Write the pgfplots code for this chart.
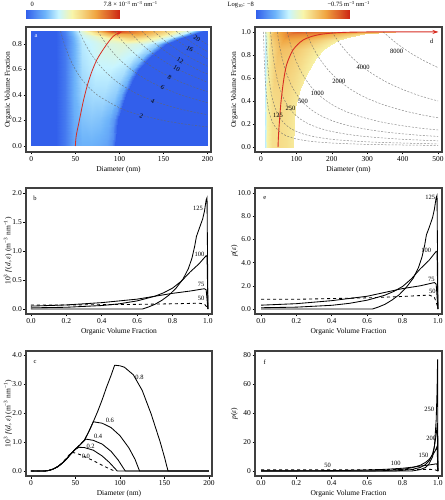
\documentclass[border=0pt]{standalone}
\usepackage{fontspec}
\setmainfont{Liberation Serif}
\usepackage{pgfplots}
\pgfplotsset{compat=1.18}
\usetikzlibrary{arrows.meta}
\definecolor{redc}{RGB}{215,45,35}
\pgfplotsset{
 colormap={heat}{rgb255(0cm)=(50,95,235); rgb255(2cm)=(110,180,250); rgb255(3.5cm)=(200,245,255); rgb255(5cm)=(248,245,170); rgb255(7.5cm)=(240,165,65); rgb255(10cm)=(205,40,20)},
 panel/.style={scale only axis, anchor=south west, axis line style={draw=black!75, line width=1.1pt},
   tick align=outside, xtick pos=left, ytick pos=left, major tick length=2.5pt,
   tick style={black, line width=0.6pt},
   ticklabel style={font=\fontsize{7.5}{8}\selectfont},
   x tick label style={inner sep=1.5pt},
   y tick label style={inner sep=1.5pt},
   label style={font=\fontsize{7.5}{9}\selectfont},
   /pgf/number format/assume math mode=true, scaled ticks=false},
 lefty/.style={ylabel style={at={(axis description cs:-0.097,0.5)}, anchor=center}},
 righty/.style={ylabel style={at={(axis description cs:-0.11,0.5)}, anchor=center}},
 dx/.style={x tick label style={/pgf/number format/fixed, /pgf/number format/fixed zerofill, /pgf/number format/precision=1}},
 dy/.style={y tick label style={/pgf/number format/fixed, /pgf/number format/fixed zerofill, /pgf/number format/precision=1}},
 crv/.style={black, line width=0.85pt, no marks},
 cont/.style={black!60, opacity=0.75, dash pattern=on 2pt off 1.5pt, line width=0.5pt, no marks, smooth},
 cbax/.style={scale only axis, anchor=south west, width=93pt, height=9pt, hide axis, ymin=0, ymax=1, colormap name=heat},
}
\newcommand{\lab}{\fontsize{6.5}{7}\selectfont}
\begin{document}
\begin{tikzpicture}[x=1pt,y=1pt]
\path[use as bounding box] (0pt,0pt) rectangle (444pt,500pt);
\node[anchor=base west, font=\lab] at (27pt,493pt) {0};
\node[anchor=base west, font=\lab] at (100pt,493pt) {7.8 × 10\textsuperscript{−3} m\textsuperscript{−3} nm\textsuperscript{−1}};
\node[anchor=base west, font=\lab] at (224pt,493pt) {Log\textsubscript{10}: −8};
\node[anchor=base west, font=\lab] at (324pt,493pt) {−0.75 m\textsuperscript{−3} nm\textsuperscript{−1}};

% colour bars
\begin{axis}[cbax, at={(26pt,481pt)}, xmin=0, xmax=7.8, point meta min=0, point meta max=7.8]
\addplot[surf, shader=interp, mesh/cols=11, point meta=x] coordinates {
(0,0)(0.78,0)(1.56,0)(2.34,0)(3.12,0)(3.9,0)(4.68,0)(5.46,0)(6.24,0)(7.02,0)(7.8,0)
(0,1)(0.78,1)(1.56,1)(2.34,1)(3.12,1)(3.9,1)(4.68,1)(5.46,1)(6.24,1)(7.02,1)(7.8,1)};
\end{axis}
\begin{axis}[cbax, at={(256pt,481pt)}, xmin=-8, xmax=-0.75, point meta min=-8, point meta max=-0.75]
\addplot[surf, shader=interp, mesh/cols=11, point meta=x] coordinates {
(-8,0)(-7.275,0)(-6.55,0)(-5.825,0)(-5.1,0)(-4.375,0)(-3.65,0)(-2.925,0)(-2.2,0)(-1.475,0)(-0.75,0)
(-8,1)(-7.275,1)(-6.55,1)(-5.825,1)(-5.1,1)(-4.375,1)(-3.65,1)(-2.925,1)(-2.2,1)(-1.475,1)(-0.75,1)};
\end{axis}

% ---------------- panel a
\begin{axis}[panel, lefty, at={(26pt,348pt)}, width=185pt, height=125pt,
  xmin=-6, xmax=204, ymin=-0.047, ymax=0.933,
  xtick={0,50,100,150,200}, ytick={0,0.2,0.4,0.6,0.8}, dy,
  xlabel={Diameter (nm)}, ylabel={Organic Volume Fraction},
  colormap name=heat, point meta min=0, point meta max=7.8]
\addplot[surf, shader=interp, mesh/cols=11, point meta=explicit] table[x=d, y=e, meta=v] {
d e v
0 0 0
28 0 0
38 0 0.5
48 0 1.3
58 0 1.5
67.25 0 1.5
76.5 0 1.4
85.75 0 1.2
91.3 0 0.8
95 0 0
200 0 0
0 0.2 0
28 0.2 0
38 0.2 0.5
48 0.2 1.4
58 0.2 1.8
68 0.2 1.9
78 0.2 1.8
88 0.2 1.5
94 0.2 1.0
98 0.2 0
200 0.2 0
0 0.4 0
28 0.4 0
38 0.4 0.5
48 0.4 1.5
58 0.4 2.1
70.25 0.4 2.3
82.5 0.4 2.3
94.75 0.4 2.0
102.1 0.4 1.4
107 0.4 0
200 0.4 0
0 0.5 0
28 0.5 0
38 0.5 0.5
48 0.5 1.5
58 0.5 2.2
72 0.5 2.5
86 0.5 2.5
100 0.5 2.2
108.4 0.5 1.5
114 0.5 0
200 0.5 0
0 0.6 0
28 0.6 0
38 0.6 0.5
48 0.6 1.5
58 0.6 2.3
74 0.6 2.7
90 0.6 2.7
106 0.6 2.4
115.6 0.6 1.6
122 0.6 0
200 0.6 0
0 0.7 0
28 0.7 0
38 0.7 0.5
48 0.7 1.5
58 0.7 2.4
77.25 0.7 2.9
96.5 0.7 3.0
115.75 0.7 2.6
127.3 0.7 1.8
135 0.7 0
200 0.7 0
0 0.8 0
28 0.8 0
38 0.8 0.5
48 0.8 1.5
58 0.8 2.5
81.75 0.8 3.1
105.5 0.8 3.3
129.25 0.8 2.9
143.5 0.8 2.0
153 0.8 0
200 0.8 0
0 0.85 0
28 0.85 0
38 0.85 0.5
48 0.85 1.6
58 0.85 2.7
86 0.85 3.8
114 0.85 4.8
142 0.85 3.8
158.8 0.85 2.4
170 0.85 0
200 0.85 0
0 0.88 0
28 0.88 0
38 0.88 0.6
48 0.88 1.8
58 0.88 3.0
89.75 0.88 5.5
121.5 0.88 5.8
153.25 0.88 4.2
172.3 0.88 2.6
185 0.88 0
200 0.88 0
0 0.9 0
28 0.9 0
38 0.9 0.7
48 0.9 2.0
58 0.9 3.3
92.25 0.9 7.5
126.5 0.9 6.2
160.75 0.9 4.3
181.3 0.9 2.8
195 0.9 0
200 0.9 0
};
\addplot[cont] coordinates {(33.3,0.9)(37.5,0.8)(42.9,0.7)(50,0.6)(60,0.5)(75,0.4)(100,0.3)(120,0.25)(150,0.2)(175,0.171)(200,0.15)};
\addplot[cont] coordinates {(54.4,0.9)(61.25,0.8)(70,0.7)(81.7,0.6)(98,0.5)(122.5,0.4)(150,0.327)(175,0.28)(200,0.245)};
\addplot[cont] coordinates {(75.6,0.9)(85,0.8)(97.1,0.7)(113.3,0.6)(136,0.5)(170,0.4)(200,0.34)};
\addplot[cont] coordinates {(94.4,0.9)(106.25,0.8)(121.4,0.7)(141.7,0.6)(170,0.5)(200,0.425)};
\addplot[cont] coordinates {(111.1,0.9)(125,0.8)(142.9,0.7)(166.7,0.6)(200,0.5)};
\addplot[cont] coordinates {(125.6,0.9)(141.25,0.8)(161.4,0.7)(188.3,0.6)(200,0.565)};
\addplot[cont] coordinates {(138.9,0.9)(156.25,0.8)(178.6,0.7)(200,0.625)};
\addplot[cont] coordinates {(152.2,0.9)(171.25,0.8)(195.7,0.7)(200,0.685)};
\addplot[cont] coordinates {(164.4,0.9)(185,0.8)(200,0.74)};
\addplot[cont] coordinates {(176.7,0.9)(198.75,0.8)(200,0.795)};
\addplot[redc, line width=0.8pt, smooth, no marks, -{Stealth[length=5pt,width=4pt]}] coordinates {(50,0)(50.5,0.05)(51.5,0.1)(53.5,0.165)(56,0.25)(59,0.35)(63,0.46)(68,0.57)(74,0.67)(80,0.74)(87,0.81)(93,0.86)(98.5,0.885)(103,0.895)};
\begin{scope}[font=\lab]
\node[rotate=-20] at (axis cs:125,0.238) {2};
\node[rotate=-25] at (axis cs:138,0.353) {4};
\node[rotate=-28] at (axis cs:149,0.46) {6};
\node[rotate=-30] at (axis cs:157,0.54) {8};
\node[rotate=-30] at (axis cs:165,0.61) {10};
\node[rotate=-30] at (axis cs:169,0.67) {12};
\node[rotate=-30] at (axis cs:180,0.76) {16};
\node[rotate=-30] at (axis cs:188,0.845) {20};
\node[white] at (axis cs:5.3,0.863) {a};
\end{scope}
\end{axis}

% ---------------- panel d
\begin{axis}[panel, righty, at={(255pt,348pt)}, width=187pt, height=125pt,
  xmin=-17, xmax=511, ymin=-0.043, ymax=1.043,
  xtick={0,100,200,300,400,500}, ytick={0,0.2,0.4,0.6,0.8,1.0}, dy,
  xlabel={Diameter (nm)}, ylabel={Organic Volume Fraction},
  colormap name=heat, point meta min=-8, point meta max=-0.75]
\addplot[surf, shader=interp, mesh/cols=6, point meta=explicit] table[x=d, y=e, meta=v] {
d e v
10 0 -5.6
16.4 0 -4.3
30 0 -3.9
50 0 -3.8
70 0 -3.9
90 0 -4.1
10 0.2 -5.6
16.6 0.2 -4.3
30.5 0.2 -3.9
51 0.2 -3.8
71.5 0.2 -3.9
92 0.2 -4.1
10 0.35 -5.6
16.8 0.35 -4.3
31.25 0.35 -3.85
52.5 0.35 -3.75
73.75 0.35 -3.85
95 0.35 -4.1
10 0.5 -5.6
18 0.5 -4.3
35 0.5 -3.7
60 0.5 -3.6
85 0.5 -3.8
110 0.5 -4.1
10 0.63 -5.6
19.4 0.63 -4.2
39.5 0.63 -3.5
69 0.63 -3.5
98.5 0.63 -3.8
128 0.63 -4.2
10 0.77 -5.6
21.7 0.77 -4.1
46.5 0.77 -3.3
83 0.77 -3.4
119.5 0.77 -3.8
156 0.77 -4.3
10 0.85 -5.6
23.4 0.85 -4.0
52 0.85 -3.1
94 0.85 -3.3
136 0.85 -3.8
178 0.85 -4.3
10 0.89 -5.5
24.8 0.89 -3.8
56.25 0.89 -2.9
102.5 0.89 -3.1
148.75 0.89 -3.7
195 0.89 -4.3
10 0.93 -5.4
26.8 0.93 -3.6
62.5 0.93 -2.6
115 0.93 -2.8
167.5 0.93 -3.5
220 0.93 -4.2
10 0.96 -5.3
29.2 0.96 -3.4
70 0.96 -2.3
130 0.96 -2.5
190 0.96 -3.2
250 0.96 -4.0
10 0.98 -5.2
32.4 0.98 -3.2
80 0.98 -2.0
150 0.98 -2.2
220 0.98 -3.0
290 0.98 -3.8
10 0.99 -5.0
35.6 0.99 -3.0
90 0.99 -1.8
170 0.99 -2.0
250 0.99 -2.8
330 0.99 -3.6
10 1.0 -4.8
39.2 1.0 -2.8
102.5 1.0 -1.5
195 1.0 -1.8
287.5 1.0 -2.6
380 1.0 -3.4
};
\addplot[cont] coordinates {(7,1)(7.8,0.897)(8.8,0.795)(10,0.7)(11.7,0.598)(14,0.5)(17,0.412)(21,0.333)(26,0.269)(33,0.212)(42,0.167)(55,0.127)(72,0.097)(95,0.074)(130,0.054)(180,0.039)(250,0.028)(350,0.02)(500,0.014)};
\addplot[cont] coordinates {(13.5,1)(15,0.9)(17,0.794)(19.5,0.692)(22.5,0.6)(27,0.5)(33,0.409)(40,0.338)(48,0.281)(58,0.233)(70,0.193)(85,0.159)(105,0.129)(130,0.104)(165,0.082)(210,0.064)(270,0.05)(350,0.039)(500,0.027)};
\addplot[cont] coordinates {(27,1)(30,0.9)(34,0.794)(39,0.692)(45,0.6)(53,0.509)(63,0.429)(75,0.36)(90,0.3)(110,0.245)(135,0.2)(165,0.164)(200,0.135)(250,0.108)(300,0.09)(400,0.0675)(500,0.054)};
\addplot[cont] coordinates {(46,1)(52,0.885)(60,0.767)(70,0.657)(85,0.541)(100,0.46)(120,0.383)(145,0.317)(175,0.263)(210,0.219)(250,0.184)(300,0.153)(350,0.131)(400,0.115)(450,0.102)(500,0.092)};
\addplot[cont] coordinates {(74,1)(85,0.871)(100,0.74)(120,0.617)(145,0.51)(175,0.423)(210,0.352)(250,0.296)(300,0.247)(350,0.211)(400,0.185)(450,0.164)(500,0.148)};
\addplot[cont] coordinates {(127,1)(145,0.876)(165,0.77)(190,0.668)(220,0.577)(260,0.488)(300,0.423)(350,0.363)(400,0.318)(450,0.282)(500,0.254)};
\addplot[cont] coordinates {(200,1)(230,0.87)(260,0.769)(300,0.667)(350,0.571)(400,0.5)(450,0.444)(500,0.4)};
\addplot[cont] coordinates {(345,1)(380,0.908)(420,0.821)(460,0.75)(500,0.69)};
\addplot[redc, line width=0.9pt, smooth, no marks, -{Stealth[length=6pt,width=4pt]}] coordinates {(48,0)(49,0.08)(50.5,0.16)(52.7,0.25)(56,0.38)(62,0.54)(67,0.64)(72,0.713)(80,0.78)(90,0.843)(104,0.893)(119,0.93)(140,0.958)(166,0.978)(200,0.99)(241,0.997)(300,1.0)(400,1.0)(501,1.0)};
\begin{scope}[font=\lab]
\node at (axis cs:48,0.278) {125};
\node at (axis cs:83,0.336) {250};
\node at (axis cs:118.6,0.394) {500};
\node at (axis cs:159,0.467) {1000};
\node at (axis cs:220,0.568) {2000};
\node at (axis cs:288,0.69) {4000};
\node at (axis cs:383,0.835) {8000};
\node at (axis cs:482,0.916) {d};
\end{scope}
\end{axis}

% ---------------- panel b
\begin{axis}[panel, lefty, at={(26pt,186pt)}, width=186pt, height=126pt,
  xmin=-0.028, xmax=1.023, ymin=-0.086, ymax=2.086,
  xtick={0,0.2,0.4,0.6,0.8,1.0}, ytick={0,0.5,1.0,1.5,2.0}, dx, dy,
  xlabel={Organic Volume Fraction},
  ylabel={10\textsuperscript{3} \textit{f}(\textit{d}, \textit{ε}) (m\textsuperscript{−3} nm\textsuperscript{−1})}]
\addplot[crv, dashed] coordinates {(0,0.07)(0.2,0.07)(0.4,0.075)(0.6,0.08)(0.8,0.09)(0.95,0.1)(0.98,0.085)(0.995,0.03)(1,0)};
\addplot[crv] coordinates {(0,0.05)(0.2,0.07)(0.4,0.11)(0.6,0.17)(0.7,0.22)(0.8,0.27)(0.9,0.31)(0.98,0.35)(0.99,0.33)(1,0)};
\addplot[crv] coordinates {(0,0.02)(0.2,0.03)(0.4,0.06)(0.5,0.09)(0.6,0.14)(0.65,0.18)(0.7,0.22)(0.75,0.28)(0.8,0.36)(0.85,0.48)(0.9,0.64)(0.95,0.78)(0.99,0.92)(0.995,0.9)(1,0)};
\addplot[crv] coordinates {(0,0)(0.63,0)(0.66,0.03)(0.7,0.08)(0.74,0.15)(0.78,0.24)(0.82,0.36)(0.86,0.52)(0.89,0.7)(0.91,0.88)(0.925,1.08)(0.935,1.25)(0.95,1.38)(0.97,1.55)(0.98,1.68)(0.99,1.88)(0.995,1.92)(1,0)};
\begin{scope}[font=\lab]
\node at (axis cs:0.944,1.74) {125};
\node at (axis cs:0.953,0.94) {100};
\node at (axis cs:0.962,0.42) {75};
\node at (axis cs:0.962,0.19) {50};
\node at (axis cs:0.023,1.91) {b};
\end{scope}
\end{axis}

% ---------------- panel e
\begin{axis}[panel, righty, at={(255pt,186pt)}, width=187pt, height=126pt,
  xmin=-0.034, xmax=1.023, ymin=-0.43, ymax=10.43,
  xtick={0,0.2,0.4,0.6,0.8,1.0}, ytick={0,2,4,6,8,10}, dx, dy,
  xlabel={Organic Volume Fraction},
  ylabel={\textit{p}(\textit{ε})}]
\addplot[crv, dashed] coordinates {(0,0.84)(0.2,0.84)(0.4,0.9)(0.6,0.96)(0.8,1.08)(0.95,1.2)(0.98,1.02)(0.995,0.36)(1,0)};
\addplot[crv] coordinates {(0,0.33)(0.2,0.46)(0.4,0.72)(0.6,1.1)(0.7,1.43)(0.8,1.76)(0.9,2.0)(0.98,2.28)(0.99,2.15)(1,0)};
\addplot[crv] coordinates {(0,0.11)(0.2,0.16)(0.4,0.32)(0.5,0.49)(0.6,0.76)(0.65,0.97)(0.7,1.19)(0.75,1.51)(0.8,1.94)(0.85,2.6)(0.9,3.46)(0.95,4.2)(0.99,4.97)(0.995,4.9)(1,0)};
\addplot[crv] coordinates {(0,0)(0.63,0)(0.66,0.15)(0.7,0.4)(0.74,0.77)(0.78,1.22)(0.82,1.84)(0.86,2.65)(0.89,3.57)(0.91,4.49)(0.925,5.5)(0.935,6.4)(0.95,7.0)(0.97,7.9)(0.98,8.6)(0.99,9.6)(0.995,9.8)(1,0)};
\begin{scope}[font=\lab]
\node at (axis cs:0.957,9.63) {125};
\node at (axis cs:0.934,5.03) {100};
\node at (axis cs:0.963,2.55) {75};
\node at (axis cs:0.968,1.55) {50};
\node at (axis cs:0.021,9.57) {e};
\end{scope}
\end{axis}

% ---------------- panel c
\begin{axis}[panel, lefty, at={(26pt,24pt)}, width=186pt, height=125pt,
  xmin=-5.6, xmax=203.4, ymin=-0.17, ymax=4.14,
  xtick={0,50,100,150,200}, ytick={0,1,2,3,4}, dy,
  xlabel={Diameter (nm)},
  ylabel={10\textsuperscript{3} \textit{f}(\textit{d}, \textit{ε}) (m\textsuperscript{−3} nm\textsuperscript{−1})}]
\addplot[crv, dashed] coordinates {(0,0)(15,0)(20,0.02)(25,0.07)(30,0.15)(35,0.28)(40,0.45)(44,0.6)(47,0.64)(50,0.62)(55,0.57)(60,0.5)(70,0.36)(80,0.2)(88,0.08)(94,0)};
\addplot[crv] coordinates {(0,0)(15,0)(20,0.02)(25,0.07)(30,0.15)(35,0.27)(40,0.42)(45,0.6)(50,0.75)(54,0.82)(60,0.81)(70,0.72)(80,0.52)(88,0.3)(94,0.1)(97,0)(200,0)};
\addplot[crv] coordinates {(0,0)(15,0)(20,0.02)(25,0.07)(30,0.15)(35,0.27)(40,0.42)(45,0.6)(50,0.76)(55,0.9)(60,1.06)(62,1.1)(70,1.06)(80,0.93)(90,0.68)(98,0.38)(103,0.14)(106,0)(200,0)};
\addplot[crv] coordinates {(0,0)(15,0)(20,0.02)(25,0.07)(30,0.15)(35,0.27)(40,0.42)(45,0.6)(50,0.76)(55,0.9)(60,1.06)(65,1.36)(70,1.7)(80,1.65)(90,1.5)(100,1.22)(110,0.8)(117,0.4)(122,0)(200,0)};
\addplot[crv] coordinates {(0,0)(15,0)(20,0.02)(25,0.07)(30,0.15)(35,0.27)(40,0.42)(45,0.6)(50,0.76)(55,0.9)(60,1.06)(65,1.36)(70,1.7)(75,2.06)(80,2.46)(85,2.9)(90,3.3)(94,3.65)(100,3.63)(105,3.58)(115,3.32)(125,2.78)(135,1.97)(145,1.02)(150,0.48)(154,0)(200,0)};
\begin{scope}[font=\lab]
\node at (axis cs:122,3.22) {0.8};
\node at (axis cs:88.6,1.76) {0.6};
\node at (axis cs:75.5,1.18) {0.4};
\node at (axis cs:67,0.84) {0.2};
\node at (axis cs:61.7,0.52) {0.0};
\node at (axis cs:4.5,3.77) {c};
\end{scope}
\end{axis}

% ---------------- panel f
\begin{axis}[panel, righty, at={(255pt,24pt)}, width=187pt, height=125pt,
  xmin=-0.034, xmax=1.023, ymin=-3.4, ymax=82.8,
  xtick={0,0.2,0.4,0.6,0.8,1.0}, ytick={0,20,40,60,80}, dx,
  xlabel={Organic Volume Fraction},
  ylabel={\textit{p}(\textit{ε})}]
\addplot[crv, dashed] coordinates {(0,0.84)(0.2,0.84)(0.4,0.9)(0.6,0.96)(0.8,1.08)(0.95,1.2)(0.98,1.02)(0.995,0.36)(1,0)};
\addplot[crv] coordinates {(0,0.11)(0.2,0.16)(0.4,0.32)(0.5,0.49)(0.6,0.76)(0.7,1.19)(0.8,1.94)(0.85,2.6)(0.9,3.46)(0.95,4.2)(0.99,4.97)(0.995,4.9)(1,0)};
\addplot[crv] coordinates {(0,0)(0.6,0.05)(0.7,0.3)(0.8,1.2)(0.85,2.2)(0.9,4)(0.93,6)(0.95,8)(0.97,11)(0.985,14)(0.995,17)(1,0)};
\addplot[crv] coordinates {(0,0)(0.75,0)(0.85,1)(0.9,2.5)(0.93,4.5)(0.95,7)(0.97,12)(0.98,17)(0.99,25)(0.997,33)(1,0)};
\addplot[crv] coordinates {(0,0)(0.85,0)(0.9,1)(0.93,2.5)(0.95,5)(0.97,10)(0.98,17)(0.99,35)(0.995,55)(0.998,77)(1,0)};
\begin{scope}[font=\lab]
\node at (axis cs:0.377,4.1) {50};
\node at (axis cs:0.762,5.3) {100};
\node at (axis cs:0.919,11) {150};
\node at (axis cs:0.962,22.5) {200};
\node at (axis cs:0.951,42.8) {250};
\node at (axis cs:0.021,75) {f};
\end{scope}
\end{axis}
\end{tikzpicture}
\end{document}
